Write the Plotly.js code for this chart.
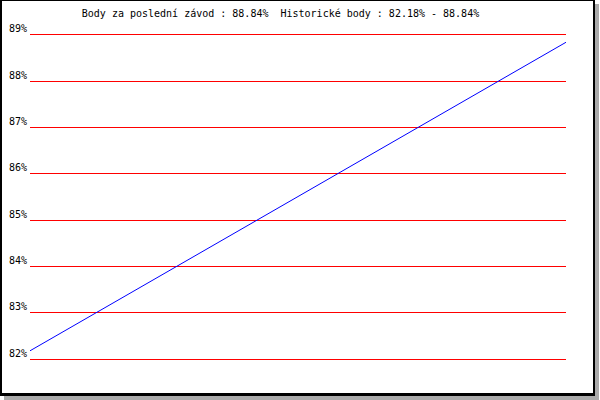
<!DOCTYPE html>
<html>
<head>
<meta charset="utf-8">
<script src="https://cdn.plot.ly/plotly-3.0.1.min.js"></script>
<style>
  html, body { margin: 0; padding: 0; background: #fff; }
  #frame { position: absolute; left: 0; top: 0; width: 591px; height: 392px;
           border-left: 2px solid #000; border-right: 2px solid #000;
           border-top: 1px solid #000; border-bottom: 3px solid #000;
           box-shadow: 4px 4px 0 #aaaaaa; background: #fff; }
  #chart { position: absolute; left: 0; top: 0; width: 600px; height: 400px; }
</style>
</head>
<body>
<div id="frame"></div>
<div id="chart"></div>
<script>
var races = [1, 2];
var points = [82.18, 88.84];
var tickValues = [82, 83, 84, 85, 86, 87, 88, 89];
var tickLabels = ['82%', '83%', '84%', '85%', '86%', '87%', '88%', '89%'];
var titleText = 'Body za poslední závod : 88.84%\u00a0\u00a0Historické body : 82.18% - 88.84%';

var mono = 'DejaVu Sans Mono, Liberation Mono, monospace';

Plotly.newPlot('chart', [{
  x: races, y: points, type: 'scatter', mode: 'lines',
  line: { color: '#0000ff', width: 1 }, hoverinfo: 'skip'
}], {
  width: 600, height: 400,
  paper_bgcolor: 'rgba(0,0,0,0)', plot_bgcolor: 'rgba(0,0,0,0)',
  margin: { l: 30, r: 34, t: 33, b: 39, pad: 0 },
  showlegend: false,
  title: { text: titleText, x: 0.4675, xanchor: 'center', y: 0.966, yanchor: 'middle',
           font: { family: mono, size: 10, color: '#000' } },
  xaxis: { range: [1, 2], showgrid: false, zeroline: false, showline: false,
           showticklabels: false, ticks: '', fixedrange: true },
  yaxis: { range: [81.96, 89.04], tickvals: tickValues, ticktext: tickLabels,
           showgrid: true, gridcolor: '#ff0000', gridwidth: 1,
           zeroline: false, showline: false, ticks: '',
           ticklabelshift: -6, ticklabelstandoff: 2,
           tickfont: { family: mono, size: 10, color: '#000' }, fixedrange: true }
}, { staticPlot: true });
</script>
</body>
</html>
